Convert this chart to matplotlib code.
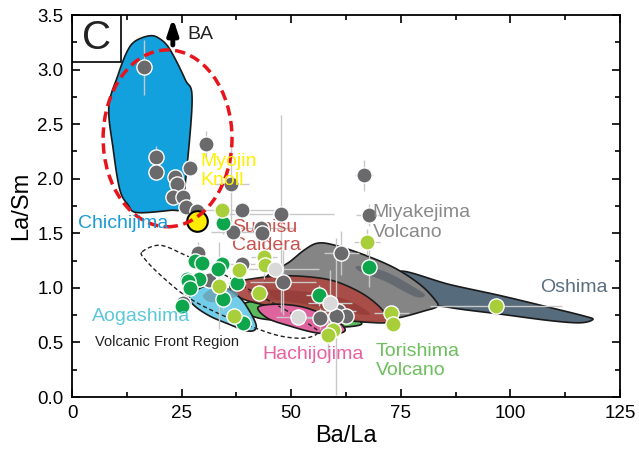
import numpy as np
import matplotlib.pyplot as plt
from matplotlib.patches import Polygon, Ellipse, Rectangle

plt.rcParams['font.family'] = ['Liberation Sans', 'DejaVu Sans']

# --- sample points (Ba/La, La/Sm) ---
gray_x = [16.4, 19.2, 19.2, 30.6, 26.9, 23.5, 24.0, 36.3, 23.0, 25.3, 26.0, 28.5,
          38.8, 36.7, 43.1, 43.3, 47.7, 66.6, 67.7, 61.4, 28.7, 38.8, 31.3, 48.1,
          25.3, 60.7, 62.5, 60.2, 56.6]
gray_y = [3.02, 2.20, 2.06, 2.32, 2.10, 2.02, 1.95, 1.95, 1.83, 1.83, 1.74, 1.70,
          1.71, 1.51, 1.55, 1.50, 1.68, 2.03, 1.67, 1.32, 1.32, 1.22, 1.07, 1.05,
          0.86, 0.79, 0.74, 0.74, 0.72]
gray_xerr = [0, 0, 0, 0, 0, 0, 0, 4, 0, 0, 0, 0,
             10, 5, 8, 0, 12, 2, 3, 4, 0, 3, 0, 7.6,
             0, 4, 0, 0, 3]
gray_yerr = [0.25, 0.10, 0, 0.12, 0, 0.06, 0, 0.45, 0, 0, 0, 0,
             0, 0, 0, 0, 0.9, 0.14, 0.1, 0.2, 0.1, 0, 0, 0.3,
             0.1, 0, 0, 0.72, 0.1]

green_x = [34.4, 28.1, 29.7, 34.2, 33.3, 26.2, 29.0, 26.5, 26.9, 37.6, 34.4, 25.1,
           39.0, 56.3, 67.7]
green_y = [1.59, 1.25, 1.23, 1.22, 1.17, 1.08, 1.08, 1.06, 1.00, 1.04, 0.90, 0.83,
           0.68, 0.93, 1.19]
green_xerr = [0, 0, 0, 0, 0, 0, 0, 0, 0, 2, 0, 0, 0, 3, 1]
green_yerr = [0.1, 0, 0, 0, 0, 0, 0, 0, 0, 0, 0.1, 0, 0, 0.1, 0.18]

lgreen_x = [34.2, 43.8, 44.0, 38.1, 33.5, 42.7, 37.0, 67.3, 72.8, 73.2, 59.5, 58.4, 96.7]
lgreen_y = [1.71, 1.28, 1.21, 1.16, 1.02, 0.95, 0.74, 1.42, 0.77, 0.67, 0.61, 0.57, 0.83]
lgreen_xerr = [0, 3, 0, 0, 0, 2, 0, 3, 4, 0, 0, 0, 15]
lgreen_yerr = [0, 0.2, 0, 0, 0.4, 0, 0, 0.12, 0, 0, 0, 0.2, 0.08]

lgray_x = [46.3, 58.9, 51.6]
lgray_y = [1.17, 0.86, 0.73]
lgray_xerr = [10, 5, 5]
lgray_yerr = [0, 0.3, 0]

myojin_x = [28.5]
myojin_y = [1.61]

# --- fields (Ba/La, La/Sm outlines) ---
chichijima = [(17.8, 3.31), (14.4, 3.26), (12.5, 3.16), (10.5, 2.95), (8.4, 2.66),
              (9.4, 2.27), (10.9, 1.90), (12.8, 1.76), (14.8, 1.69), (22.4, 1.71),
              (24.9, 1.73), (25.8, 1.94), (27.4, 2.72), (25.8, 2.91), (22.4, 3.18),
              (20.1, 3.28)]
miyakejima = [(44.0, 1.07), (49.7, 1.24), (53.1, 1.35), (56.1, 1.41), (60.0, 1.39),
              (66.8, 1.30), (73.7, 1.18), (79.4, 1.03), (82.8, 0.89), (83.3, 0.83),
              (80.5, 0.79), (73.7, 0.72), (65.7, 0.69), (56.6, 0.71), (48.6, 0.84)]
oshima = [(74.8, 1.15), (86.2, 1.03), (97.6, 0.93), (109.0, 0.82), (117.0, 0.74),
          (118.8, 0.71), (115.9, 0.68), (109.0, 0.70), (97.6, 0.76), (86.2, 0.82),
          (79.4, 0.89)]
oshima_inner = [(65.2, 1.20), (71.4, 1.15), (78.7, 0.99), (80.5, 0.93), (78.2, 0.92),
                (71.4, 1.06), (65.7, 1.15)]
sumisu = [(36.5, 1.04), (40.6, 1.08), (47.4, 1.11), (54.3, 1.10), (60.0, 1.06),
          (65.7, 0.96), (69.8, 0.84), (72.1, 0.72), (71.4, 0.68), (65.7, 0.69),
          (58.9, 0.72), (52.0, 0.77), (45.2, 0.83), (39.5, 0.89), (36.5, 0.96)]
sumisu_inner = [(41.0, 0.98), (52.0, 0.97), (62.0, 0.90), (68.0, 0.76), (62.0, 0.78),
                (52.0, 0.86), (42.0, 0.92)]
torishima = [(39.5, 0.86), (45.2, 0.89), (52.0, 0.86), (58.9, 0.80), (64.6, 0.72),
             (65.7, 0.66), (58.9, 0.64), (49.7, 0.69), (42.9, 0.72), (39.5, 0.78)]
hachijojima = [(42.4, 0.82), (46.3, 0.85), (52.0, 0.83), (56.6, 0.77), (60.7, 0.69),
               (62.3, 0.61), (60.0, 0.58), (55.4, 0.59), (49.7, 0.65), (44.7, 0.72)]
aogashima = [(26.7, 0.91), (28.5, 0.98), (31.0, 1.02), (34.9, 1.00), (38.3, 0.91),
             (40.6, 0.78), (42.0, 0.66), (41.5, 0.61), (39.5, 0.61), (35.6, 0.67),
             (31.5, 0.74), (28.1, 0.83)]
aogashima_inner = [(29.9, 0.93), (32.6, 1.00), (36.5, 0.98), (37.9, 0.93), (34.9, 0.89),
                   (31.5, 0.87)]
volcanic_front = [(16.0, 1.33), (20.1, 1.39), (25.8, 1.30), (32.6, 1.17), (40.6, 0.98),
                  (48.6, 0.80), (54.3, 0.66), (56.1, 0.59), (53.1, 0.54), (47.4, 0.56),
                  (40.6, 0.65), (32.6, 0.78), (25.8, 0.93), (20.1, 1.12), (16.7, 1.26)]
# red dashed ellipse: center, width, height
ell_center = (21.8, 2.37)
ell_w, ell_h = 29.4, 1.62


def smooth(pts, n=12):
    # closed Catmull-Rom outline through the given vertices
    p = np.array(pts, dtype=float)
    out = []
    m = len(p)
    for i in range(m):
        p0, p1, p2, p3 = p[i - 1], p[i], p[(i + 1) % m], p[(i + 2) % m]
        for t in np.linspace(0, 1, n, endpoint=False):
            t2, t3 = t * t, t * t * t
            out.append(0.5 * ((2 * p1) + (-p0 + p2) * t +
                              (2 * p0 - 5 * p1 + 4 * p2 - p3) * t2 +
                              (-p0 + 3 * p1 - 3 * p2 + p3) * t3))
    return np.array(out)


fig = plt.figure(figsize=(6.39, 4.53), dpi=100)
ax = fig.add_axes([72 / 639, 56 / 453, 548 / 639, 382 / 453])

ec = '#1a1a1a'
ax.add_patch(Polygon(smooth(chichijima), closed=True, fc='#12a1dd', ec=ec, lw=1.2, zorder=2))
ax.add_patch(Polygon(smooth(oshima), closed=True, fc='#566b7c', ec=ec, lw=1.2, zorder=2))
ax.add_patch(Polygon(smooth(miyakejima), closed=True, fc='#858585', ec=ec, lw=1.2, zorder=2.1))
ax.add_patch(Polygon(smooth(oshima_inner), closed=True, fc='#5d646d', ec='none', alpha=0.8, zorder=2.15))
ax.add_patch(Polygon(smooth(torishima), closed=True, fc='#5cb85c', ec=ec, lw=1.2, zorder=2.2))
ax.add_patch(Polygon(smooth(sumisu), closed=True, fc='#ab4a44', ec=ec, lw=1.2, alpha=0.95, zorder=2.3))
ax.add_patch(Polygon(smooth(sumisu_inner), closed=True, fc='#8f3734', ec='none', alpha=0.6, zorder=2.35))
ax.add_patch(Polygon(smooth(hachijojima), closed=True, fc='#df649e', ec=ec, lw=1.2, zorder=2.4))
ax.add_patch(Polygon(smooth(aogashima), closed=True, fc='#72cde8', ec=ec, lw=1.2, zorder=2.5))
ax.add_patch(Polygon(smooth(aogashima_inner), closed=True, fc='#6aa2b4', ec='none', alpha=0.8, zorder=2.55))
ax.add_patch(Polygon(smooth(volcanic_front), closed=True, fill=False, ec='#222222', lw=1.0,
                     ls=(0, (3, 2)), zorder=2.6))

# error bars
ebkw = dict(fmt='none', ecolor='#c8c8c8', elinewidth=1.0, capsize=0, zorder=3)
ax.errorbar(gray_x, gray_y, xerr=gray_xerr, yerr=gray_yerr, **ebkw)
ax.errorbar(green_x, green_y, xerr=green_xerr, yerr=green_yerr, **ebkw)
ax.errorbar(lgreen_x, lgreen_y, xerr=lgreen_xerr, yerr=lgreen_yerr, **ebkw)
ax.errorbar(lgray_x, lgray_y, xerr=lgray_xerr, yerr=lgray_yerr, **ebkw)

skw = dict(s=120, edgecolors='white', linewidths=1.0, zorder=4)
ax.scatter(gray_x, gray_y, c='#6a6a6c', **skw)
ax.scatter(green_x, green_y, c='#0da64d', **skw)
ax.scatter(lgreen_x, lgreen_y, c='#a8cf3a', **skw)
ax.scatter(lgray_x, lgray_y, c='#d9d9d9', **skw)
ax.scatter(myojin_x, myojin_y, c='#ffec00', s=220, edgecolors='black', linewidths=1.5, zorder=4.5)

ax.add_patch(Ellipse(ell_center, ell_w, ell_h, fill=False, ec='#e8141b', lw=2.5,
                     ls=(0, (3, 1.6)), zorder=5))

# labels
fs = 14
ls2 = 1.2
ax.text(1.4, 1.59, 'Chichijima', color='#1a9ad6', fontsize=fs, va='center', zorder=6)
ax.text(29.2, 2.07, 'Myojin\nKnoll', color='#fff000', fontsize=fs, va='center',
        linespacing=1.1, zorder=6)
ax.text(36.5, 1.47, 'Sumisu\nCaldera', color='#c9534e', fontsize=fs, va='center',
        linespacing=1.1, zorder=3.5)
ax.text(68.6, 1.60, 'Miyakejima\nVolcano', color='#8a8a8a', fontsize=fs, va='center',
        linespacing=ls2, zorder=6)
ax.text(106.8, 1.0, 'Oshima', color='#5a6e80', fontsize=fs, va='center', zorder=6)
ax.text(4.6, 0.74, 'Aogashima', color='#5cc8d7', fontsize=fs, va='center', zorder=6)
ax.text(5.2, 0.50, 'Volcanic Front Region', color='#222222', fontsize=10.5, va='center', zorder=6)
ax.text(43.4, 0.385, 'Hachijojima', color='#e8609e', fontsize=fs, va='center', zorder=6)
ax.text(69.3, 0.33, 'Torishima\nVolcano', color='#6cbf5c', fontsize=fs, va='center',
        linespacing=ls2, zorder=6)

ax.annotate('', xy=(23.0, 3.50), xytext=(23.0, 3.20),
            arrowprops=dict(arrowstyle='-|>,head_width=0.3,head_length=0.9',
                            color='black', lw=3.5), zorder=6, annotation_clip=False)
ax.text(26.4, 3.32, 'BA', fontsize=14, va='center', color='#222222', zorder=6)

ax.add_patch(Rectangle((0, 1 - 0.123), 0.0895, 0.123, transform=ax.transAxes,
                       fill=False, ec='black', lw=1.2, zorder=6))
ax.text(0.0447, 1 - 0.0615, 'C', transform=ax.transAxes, fontsize=29,
        ha='center', va='center', color='#222222', zorder=6)

ax.set_xlim(0, 125)
ax.set_ylim(0, 3.5)
ax.set_xticks(np.arange(0, 126, 25))
ax.set_xticks(np.arange(0, 126, 12.5), minor=True)
ax.set_yticks(np.arange(0, 3.51, 0.5))
ax.set_yticks(np.arange(0, 3.51, 0.25), minor=True)
ax.set_yticklabels([f'{v:.1f}' for v in np.arange(0, 3.51, 0.5)])
ax.tick_params(which='both', direction='in', top=True, right=True, width=1.2, labelsize=13.5)
ax.tick_params(which='major', length=6, pad=6)
ax.tick_params(which='minor', length=3.5)
for sp in ax.spines.values():
    sp.set_linewidth(1.3)
ax.set_xlabel('Ba/La', fontsize=17, labelpad=2)
ax.set_ylabel('La/Sm', fontsize=17, labelpad=4)

fig.savefig('out.png', dpi=100)
